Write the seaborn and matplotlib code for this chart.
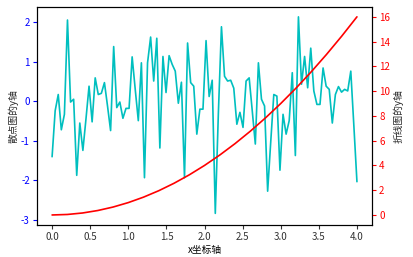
import numpy as np
import pandas as pd
import matplotlib
matplotlib.use("Agg")
import matplotlib.pyplot as plt
import seaborn as sns

# ---- data ----
x_start, x_end = 0.0, 4.0
scatter_y = [-1.40, -0.24, 0.17, -0.72, -0.33, 2.05, -0.02, 0.05, -1.87, -0.55,
             -1.24, -0.45, 0.38, -0.52, 0.59, 0.17, 0.20, 0.47, -0.12, -0.74,
             1.38, -0.16, -0.02, -0.43, -0.18, -0.18, 1.12, 0.30, -0.49, 0.97,
             -1.93, 0.97, 1.62, 0.51, 1.59, -1.18, 1.13, 0.22, 1.15, 0.93,
             0.76, -0.05, 0.48, -1.93, 1.47, 0.47, 0.38, -0.83, -0.20, -0.20,
             1.53, 0.12, 0.53, -2.83, -0.30, 1.88, 0.63, 0.51, 0.53, 0.33,
             -0.58, -0.28, -0.66, 0.51, 0.59, -0.24, -1.08, 0.97, 0.05, -0.12,
             -2.27, -1.03, 0.17, 0.13, -1.74, -0.33, -0.83, -0.49, 0.72, -1.37,
             2.13, 0.43, 1.13, 0.34, 1.34, 0.26, -0.08, -0.08, 0.84, 0.38,
             0.30, -0.55, 0.17, 0.37, 0.23, 0.30, 0.26, 0.76, -0.62, -2.03]
scatter_x = np.linspace(x_start, x_end, len(scatter_y))

curve_x = [0.0, 0.2, 0.4, 0.6, 0.8, 1.0, 1.2, 1.4, 1.6, 1.8, 2.0,
           2.2, 2.4, 2.6, 2.8, 3.0, 3.2, 3.4, 3.6, 3.8, 4.0]
curve_y = [0.0, 0.04, 0.16, 0.36, 0.64, 1.0, 1.44, 1.96, 2.56, 3.24, 4.0,
           4.84, 5.76, 6.76, 7.84, 9.0, 10.24, 11.56, 12.96, 14.44, 16.0]

x_label = "x坐标轴"
left_label = "散点图的y轴"
right_label = "折线图的y轴"

# ---- style ----
sns.set_style("ticks")
plt.rcParams['font.family'] = ['Noto Sans CJK SC', 'DejaVu Sans']
plt.rcParams['axes.unicode_minus'] = False
plt.rcParams['font.size'] = 7

df1 = pd.DataFrame({"x": scatter_x, "y": scatter_y})
df2 = pd.DataFrame({"x": curve_x, "y": curve_y})

fig = plt.figure(figsize=(4.14, 2.57), dpi=100)
ax = fig.add_axes([0.089, 0.125, 0.81, 0.848])
sns.lineplot(data=df1, x="x", y="y", ax=ax, color="c", linewidth=1.2)
ax2 = ax.twinx()
sns.lineplot(data=df2, x="x", y="y", ax=ax2, color="r", linewidth=1.2)

ax.set_xlim(-0.2, 4.2)
ax.set_ylim(-3.12, 2.38)
ax2.set_ylim(-0.8, 16.8)
ax.set_xticks([0.0, 0.5, 1.0, 1.5, 2.0, 2.5, 3.0, 3.5, 4.0])
ax.set_yticks([-3, -2, -1, 0, 1, 2])
ax2.set_yticks([0, 2, 4, 6, 8, 10, 12, 14, 16])

ax.set_xlabel(x_label, fontsize=7, labelpad=2)
ax.set_ylabel(left_label, fontsize=7, labelpad=2)
ax2.set_ylabel(right_label, fontsize=7, labelpad=2)

ax.tick_params(axis='y', colors='blue', labelsize=7, length=3, width=0.8, pad=2)
ax2.tick_params(axis='y', colors='red', labelsize=7, length=3, width=0.8, pad=2)
ax.tick_params(axis='x', labelsize=7, length=3, width=0.8, pad=2, colors='#333333')
ax.xaxis.label.set_color('black')
for a in (ax, ax2):
    for s in a.spines.values():
        s.set_linewidth(0.8)
        s.set_color('black')

fig.savefig("out.png", dpi=100)
